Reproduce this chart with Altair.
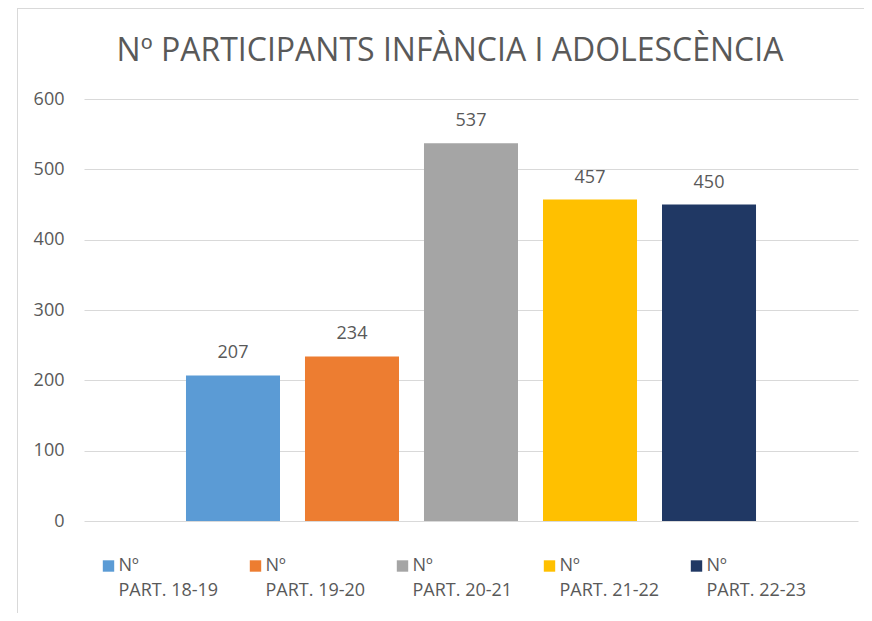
import altair as alt
import pandas as pd

title = "Nº PARTICIPANTS INFÀNCIA I ADOLESCÈNCIA"
series = ["Nº PART. 18-19", "Nº PART. 19-20", "Nº PART. 20-21", "Nº PART. 21-22", "Nº PART. 22-23"]
values = [207, 234, 537, 457, 450]
colors = ["#5B9BD5", "#ED7D31", "#A5A5A5", "#FFC000", "#203864"]
y_ticks = [0, 100, 200, 300, 400, 500, 600]

df = pd.DataFrame({"serie": series, "valor": values})
one = pd.DataFrame({"k": [0]})

FONT = "Open Sans"
TXT = "#595959"
GRID = "#D9D9D9"

x_enc = alt.X("serie:N", sort=series, axis=None,
              scale=alt.Scale(paddingInner=0.21, paddingOuter=0.857))
y_enc = alt.Y("valor:Q", scale=alt.Scale(domain=[0, 600], nice=False),
              axis=alt.Axis(values=y_ticks, title=None, domain=False, ticks=False,
                            grid=True, gridColor=GRID, gridWidth=1,
                            labelFont=FONT, labelFontSize=18, labelColor=TXT,
                            labelPadding=20))

bars = alt.Chart(df).mark_bar().encode(
    x=x_enc,
    y=y_enc,
    color=alt.Color("serie:N", sort=series,
                    scale=alt.Scale(domain=series, range=colors),
                    legend=alt.Legend(title=None, orient="none", legendX=15.5, legendY=458,
                                      direction="horizontal", columns=5, columnPadding=28,
                                      gridAlign="all",
                                      symbolType="square", symbolSize=130, symbolStrokeWidth=0,
                                      labelFont=FONT, labelFontSize=18, labelColor=TXT,
                                      labelOffset=1, labelLimit=300, labelBaseline="middle",
                                      labelExpr="[slice(datum.label, 0, 2), slice(datum.label, 3)]")),
)

labels = alt.Chart(df).mark_text(baseline="middle", dy=-22, font=FONT, fontSize=18, color=TXT).encode(
    x=x_enc, y=y_enc, text="valor:Q"
)

border_top = alt.Chart(one).mark_rule(color=GRID, strokeWidth=1).encode(
    x=alt.value(-67), x2=alt.value(800), y=alt.value(-90.5)
)
border_left = alt.Chart(one).mark_rule(color=GRID, strokeWidth=1).encode(
    x=alt.value(-66.5), y=alt.value(-91), y2=alt.value(520)
)

chart = alt.layer(border_top, border_left, bars, labels).properties(
    width=774,
    height=422,
    autosize=alt.AutoSizeParams(type="none"),
    padding={"left": 76, "top": 91, "right": 6, "bottom": 92},
    title=alt.TitleParams(text=title, font=FONT, fontSize=32, fontWeight="normal",
                          color=TXT, anchor="middle", frame="group", dx=-21, offset=-60),
).configure(
    style={"guide-label": {"lineHeight": 25}}
).configure_view(stroke=None)

chart.save("out.html", embed_options={"renderer": "svg", "actions": False})
